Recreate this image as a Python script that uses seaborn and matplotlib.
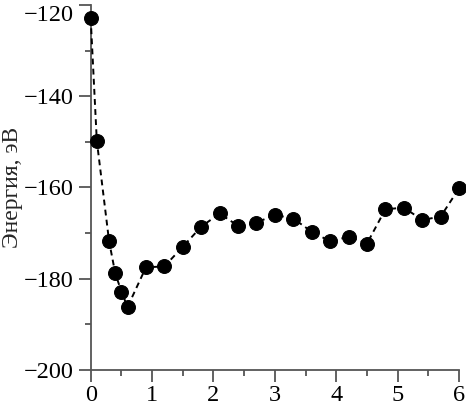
import matplotlib
matplotlib.use("Agg")
import matplotlib.pyplot as plt
import seaborn as sns
from matplotlib.ticker import MultipleLocator

sns.set_style("ticks")
plt.rcParams['font.family'] = ['Liberation Serif', 'DejaVu Serif']

# data
x_vals = [0.0, 0.1, 0.3, 0.4, 0.5, 0.6, 0.9, 1.2, 1.5, 1.8, 2.1, 2.4,
          2.7, 3.0, 3.3, 3.6, 3.9, 4.2, 4.5, 4.8, 5.1, 5.4, 5.7, 6.0]
energy = [-122.9, -149.8, -171.8, -178.8, -182.8, -186.2, -177.5, -177.3,
          -173.0, -168.6, -165.7, -168.4, -167.7, -166.0, -166.8, -169.7,
          -171.8, -170.8, -172.3, -164.8, -164.4, -167.1, -166.4, -160.2]
y_label = "Энергия, эВ"

fig = plt.figure(figsize=(4.66, 4.09), dpi=100)
ax = fig.add_axes([0.1946, 0.0954, 0.7904, 0.8924])

sns.lineplot(x=x_vals, y=energy, ax=ax, color="black", linestyle=(0, (3, 2.2)),
             linewidth=1.4, marker="o", markersize=10, markeredgecolor="black",
             markerfacecolor="black", clip_on=False, zorder=3)

ax.set_xlim(0, 6)
ax.set_ylim(-200, -120)
ax.xaxis.set_major_locator(MultipleLocator(1))
ax.xaxis.set_minor_locator(MultipleLocator(0.5))
ax.yaxis.set_major_locator(MultipleLocator(20))
ax.yaxis.set_minor_locator(MultipleLocator(10))

sns.despine(ax=ax)
for side in ["left", "bottom"]:
    ax.spines[side].set_color("#555555")
    ax.spines[side].set_linewidth(1.3)

ax.tick_params(which="major", direction="out", length=8.5, width=1.3,
               color="#555555", labelsize=17.5, labelcolor="black")
ax.tick_params(which="minor", direction="out", length=4.5, width=1.3,
               color="#555555")
ax.tick_params(axis="y", which="major", pad=4)
ax.tick_params(axis="x", which="major", pad=2.5)

# top label sits below its tick so it stays inside the figure
fig.canvas.draw()
for tick in ax.yaxis.get_major_ticks():
    if abs(tick.get_loc() - (-120)) < 1e-6:
        tick.label1.set_verticalalignment("top")

ax.set_ylabel(y_label, fontsize=17)
ax.yaxis.set_label_coords(-0.184, 0.5)
ax.set_xlabel("")

fig.savefig("out.png", dpi=100)
